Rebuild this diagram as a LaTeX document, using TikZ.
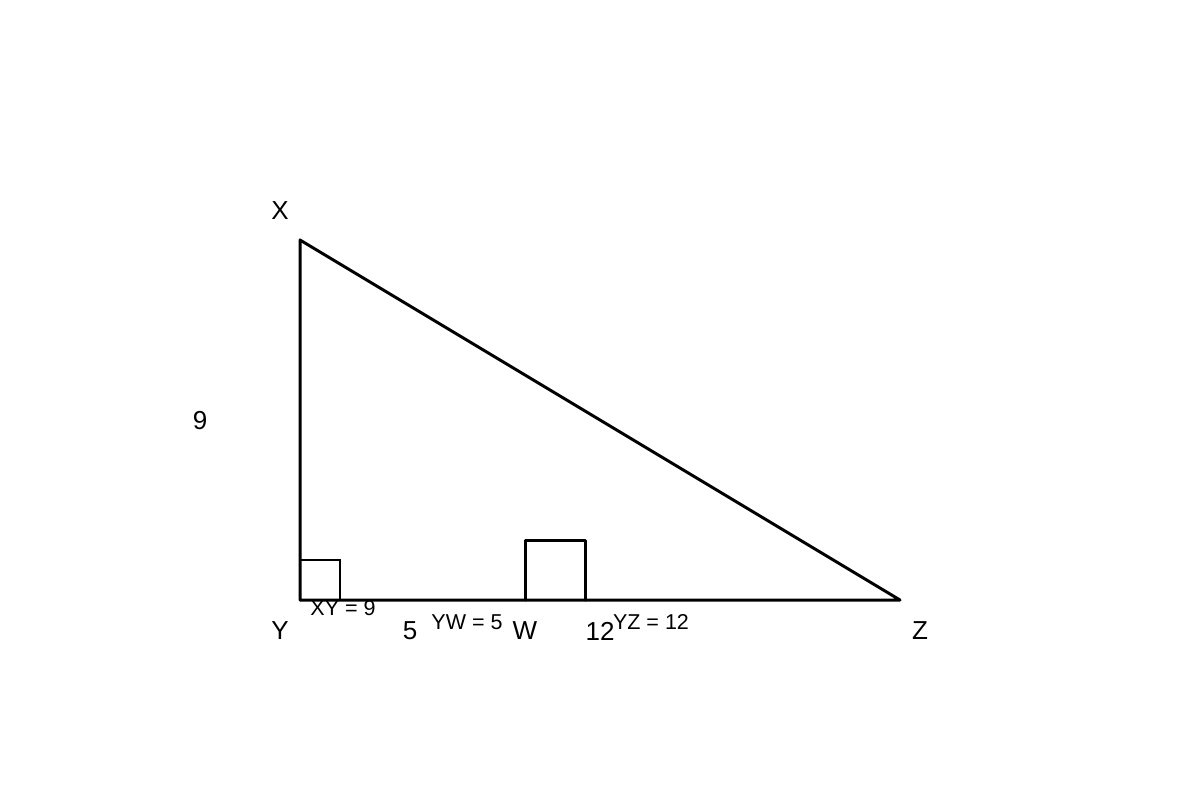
\documentclass[tikz,border=0pt]{standalone}
\usepackage{fontspec}
\setmainfont{Liberation Sans}
\begin{document}
\begin{tikzpicture}[x=1pt,y=-1pt,
  big/.style={font=\fontsize{26}{30}\selectfont, inner sep=0pt, anchor=center},
  small/.style={font=\fontsize{21.5}{25}\selectfont, inner sep=0pt, anchor=center},
  edge/.style={line width=3pt, line cap=round, line join=round}]
\useasboundingbox (0,0) rectangle (1200,800);
\coordinate (X) at (300,240);
\coordinate (Y) at (300,600);
\coordinate (Z) at (900,600);
\coordinate (W1) at (525,600);
\coordinate (W2) at (525,540);
\coordinate (W3) at (585,540);
\coordinate (W4) at (585,600);
\coordinate (R1) at (300,560);
\coordinate (R2) at (340,560);
\coordinate (R3) at (340,600);
\draw[edge] (X) -- (Y) -- (Z) -- cycle;
\draw[line width=2pt] (R1) -- (R2) -- (R3);
\draw[edge] (W1) -- (W2) -- (W3) -- (W4);
\node[big] (lX) at (280,211) {X};
\node[big] (lY) at (280,631) {Y};
\node[big] (lZ) at (920,631) {Z};
\node[big] (lW) at (525,631) {W};
\node[big] (l9) at (200,421) {9};
\node[big] (l5) at (410,631) {5};
\node[big] (l12) at (600,631) {12};
\node[small] (t1) at (343,608) {XY = 9};
\node[small] (t2) at (467,622) {YW = 5};
\node[small] (t3) at (651,622) {YZ = 12};
\end{tikzpicture}
\end{document}
